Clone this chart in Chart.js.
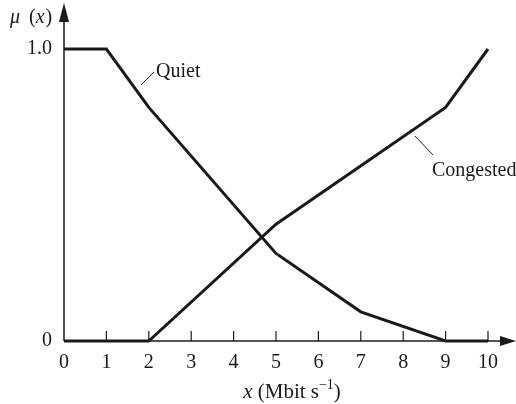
<!DOCTYPE html>
<html>
<head>
<meta charset="utf-8">
<script src="https://cdn.jsdelivr.net/npm/chart.js@4.4.1/dist/chart.umd.min.js"></script>
<style>
  html, body { margin:0; padding:0; background:#fff; }
  #wrap { width:516px; height:404px; }
</style>
</head>
<body>
<div id="wrap"><canvas id="fuzzy" width="516" height="404"></canvas></div>
<script>
// Membership functions for link load (Quiet / Congested)
const xTicks = [0,1,2,3,4,5,6,7,8,9,10];
const yTicks = [0, 1];
const quietX = [0, 1, 2, 5, 7, 9, 10];
const quietY = [1, 1, 0.8, 0.3, 0.1, 0, 0];
const congestedX = [0, 2, 5, 9, 10];
const congestedY = [0, 0, 0.4, 0.8, 1];

const SERIF = '"Liberation Serif", "DejaVu Serif", serif';
const INK = '#1a1a1a';
const FS = 20;

function pts(xs, ys){ return xs.map((x,i)=>({x, y:ys[i]})); }

// axes with arrows, inward ticks, labels, leader lines
const decor = {
  id:'decor',
  afterDraw(chart){
    const {ctx, scales:{x, y}} = chart;
    const x0 = x.getPixelForValue(0), y0 = y.getPixelForValue(0);
    ctx.save();
    ctx.strokeStyle = INK; ctx.fillStyle = INK; ctx.lineWidth = 1.5;
    // y axis + arrow
    ctx.beginPath(); ctx.moveTo(x0, y0); ctx.lineTo(x0, 18); ctx.stroke();
    ctx.beginPath(); ctx.moveTo(x0, 3); ctx.lineTo(x0-5, 22); ctx.lineTo(x0+5, 22); ctx.closePath(); ctx.fill();
    // x axis + arrow
    ctx.beginPath(); ctx.moveTo(x0, y0); ctx.lineTo(505, y0); ctx.stroke();
    ctx.beginPath(); ctx.moveTo(516, y0); ctx.lineTo(500, y0-5); ctx.lineTo(500, y0+5); ctx.closePath(); ctx.fill();
    // inward tick marks
    ctx.lineWidth = 1.2;
    xTicks.slice(1).forEach(v=>{
      const px = x.getPixelForValue(v);
      ctx.beginPath(); ctx.moveTo(px, y0); ctx.lineTo(px, y0-10); ctx.stroke();
    });
    // leader lines
    ctx.lineWidth = 1;
    ctx.beginPath(); ctx.moveTo(141, 85); ctx.lineTo(154, 72); ctx.stroke();
    ctx.beginPath(); ctx.moveTo(415, 136); ctx.lineTo(433, 155); ctx.stroke();
    // curve labels
    ctx.font = FS + 'px ' + SERIF;
    ctx.textBaseline = 'alphabetic'; ctx.textAlign = 'left';
    ctx.fillText('Quiet', 156, 77);
    ctx.fillText('Congested', 432, 176);
    // y title: μ (x)
    let cx = 10;
    const yb = 23;
    ctx.font = 'italic ' + FS + 'px ' + SERIF; ctx.fillText('\u03bc', cx, yb); cx += ctx.measureText('\u03bc').width + 4;
    ctx.font = FS + 'px ' + SERIF; ctx.fillText(' (', cx, yb); cx += ctx.measureText(' (').width;
    ctx.font = 'italic ' + FS + 'px ' + SERIF; ctx.fillText('x', cx, yb); cx += ctx.measureText('x').width + 1;
    ctx.font = FS + 'px ' + SERIF; ctx.fillText(')', cx, yb);
    // x title: x (Mbit s^-1)
    const parts = [
      ['italic 21px ' + SERIF, 'x', 0],
      ['21px ' + SERIF, ' (Mbit s', 0],
      ['14px ' + SERIF, '\u22121', -9],
      ['21px ' + SERIF, ')', 0]
    ];
    let total = 0;
    parts.forEach(p=>{ ctx.font = p[0]; total += ctx.measureText(p[1]).width; });
    let tx = 292 - total/2;
    const tb = 398;
    parts.forEach(p=>{ ctx.font = p[0]; ctx.fillText(p[1], tx, tb + p[2]); tx += ctx.measureText(p[1]).width; });
    ctx.restore();
  }
};

new Chart(document.getElementById('fuzzy'), {
  type:'line',
  data:{
    datasets:[
      {label:'Quiet', data:pts(quietX, quietY), borderColor:INK, borderWidth:3, pointRadius:0, tension:0, fill:false, clip:false},
      {label:'Congested', data:pts(congestedX, congestedY), borderColor:INK, borderWidth:3, pointRadius:0, tension:0, fill:false, clip:false}
    ]
  },
  options:{
    responsive:false, animation:false, devicePixelRatio:1,
    layout:{padding:{top:49, right:28, left:0, bottom:0}},
    plugins:{legend:{display:false}, tooltip:{enabled:false}},
    scales:{
      x:{
        type:'linear', min:0, max:10,
        afterBuildTicks(s){ s.ticks = xTicks.map(v=>({value:v})); },
        afterFit(s){ s.height = 63; },
        grid:{display:false, drawTicks:false}, border:{display:false},
        ticks:{color:INK, font:{family:SERIF, size:FS}, padding:10, maxRotation:0, autoSkip:false}
      },
      y:{
        type:'linear', min:0, max:1,
        afterBuildTicks(s){ s.ticks = yTicks.map(v=>({value:v})); },
        afterFit(s){ s.width = 64; },
        grid:{display:false, drawTicks:false}, border:{display:false},
        ticks:{color:INK, font:{family:SERIF, size:FS}, padding:12, callback:v=> v===1 ? '1.0' : '0'}
      }
    }
  },
  plugins:[decor]
});
</script>
</body>
</html>
